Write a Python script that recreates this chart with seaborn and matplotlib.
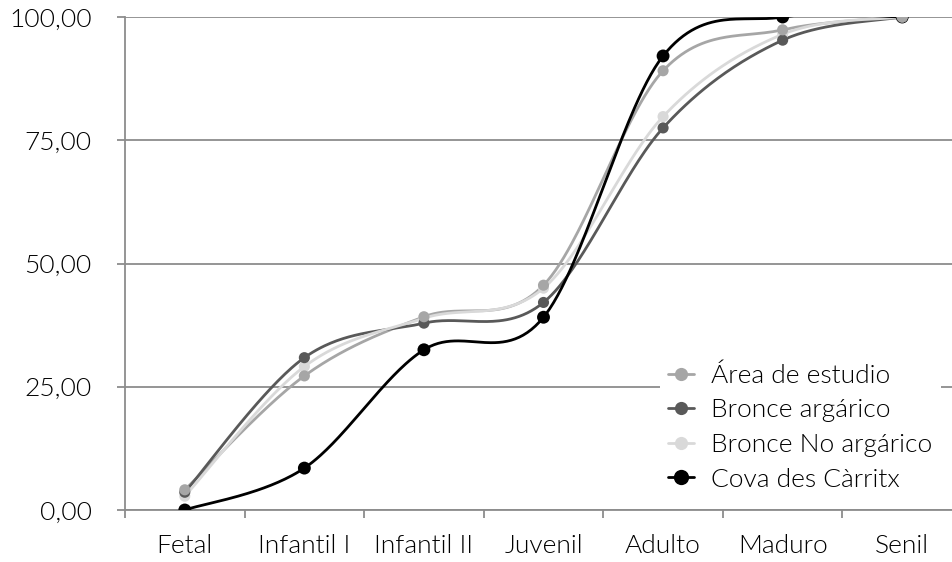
import numpy as np
import pandas as pd
import matplotlib
matplotlib.use("Agg")
import matplotlib.pyplot as plt
from matplotlib.lines import Line2D
from matplotlib.ticker import FuncFormatter, FixedLocator
import seaborn as sns

# Cumulative mortality (%) by age group
categories = ["Fetal", "Infantil I", "Infantil II", "Juvenil", "Adulto", "Maduro", "Senil"]
area_estudio = [4.1, 27.2, 39.2, 45.6, 89.1, 97.4, 100.0]
bronce_argarico = [3.6, 30.9, 37.9, 42.1, 77.5, 95.3, 100.0]
bronce_no_argarico = [2.8, 29.1, 38.9, 45.0, 79.8, 96.5, 100.0]
cova_carritx = [0.0, 8.5, 32.5, 39.1, 92.1, 100.0, 100.0]

series_names = ["Área de estudio", "Bronce argárico", "Bronce No argárico", "Cova des Càrritx"]
series_values = [area_estudio, bronce_argarico, bronce_no_argarico, cova_carritx]
colors = ["#a6a6a6", "#595959", "#d9d9d9", "#000000"]
marker_sizes = [64, 64, 64, 86]


def smooth_curve(xs, ys, n=60):
    """Catmull-Rom style cubic Bezier through every point."""
    pts = np.column_stack([xs, ys]).astype(float)
    ext = np.vstack([pts[0], pts, pts[-1]])
    out = []
    t = np.linspace(0, 1, n)[:, None]
    for i in range(len(pts) - 1):
        p0, p1, p2, p3 = ext[i], ext[i + 1], ext[i + 2], ext[i + 3]
        c1 = p1 + (p2 - p0) / 6.0
        c2 = p2 - (p3 - p1) / 6.0
        seg = ((1 - t) ** 3) * p1 + 3 * ((1 - t) ** 2) * t * c1 + 3 * (1 - t) * t ** 2 * c2 + t ** 3 * p2
        out.append(seg if i == 0 else seg[1:])
    return np.vstack(out)


x_pos = np.arange(len(categories))
curve_frames, point_frames = [], []
for name, vals in zip(series_names, series_values):
    c = smooth_curve(x_pos, vals)
    curve_frames.append(pd.DataFrame({"x": c[:, 0], "y": c[:, 1], "serie": name}))
    point_frames.append(pd.DataFrame({"x": x_pos, "y": vals, "serie": name}))
curves = pd.concat(curve_frames, ignore_index=True)
points = pd.concat(point_frames, ignore_index=True)

sns.set_theme(style="white")
plt.rcParams["font.family"] = ["Lato", "DejaVu Sans"]
plt.rcParams["font.weight"] = 300

fig = plt.figure(figsize=(9.52, 5.62), dpi=100)
ax = fig.add_axes([125 / 952, 52 / 562, 837 / 952, 493 / 562])

palette = dict(zip(series_names, colors))
for name in series_names:
    sns.lineplot(data=curves[curves.serie == name], x="x", y="y", color=palette[name],
                 lw=2.0, sort=False, estimator=None, ax=ax, legend=False, zorder=3)

# markers: the larger black ones first, lighter series on top
for name, ms in reversed(list(zip(series_names, marker_sizes))):
    sns.scatterplot(data=points[points.serie == name], x="x", y="y", color=palette[name],
                    s=ms, edgecolor="none", ax=ax, legend=False, zorder=4)

ax.set_xlim(-0.5, len(categories) - 0.5)
ax.set_ylim(0, 100)
ax.set_xlabel("")
ax.set_ylabel("")

grid_c = "#8c8c8c"
text_c = "#000000"
fs = 19
ax.set_yticks([0, 25, 50, 75, 100])
ax.yaxis.set_major_formatter(FuncFormatter(lambda v, p: f"{v:.2f}".replace(".", ",")))
ax.yaxis.grid(True, color=grid_c, lw=1.3)
ax.set_axisbelow(True)
ax.tick_params(axis="y", which="major", length=6, width=1.3, color=grid_c, direction="out",
               left=True, pad=18, labelsize=fs, labelcolor=text_c)

ax.set_xticks(x_pos)
ax.set_xticklabels(categories)
ax.tick_params(axis="x", which="major", length=0, pad=17, labelsize=fs, labelcolor=text_c)
ax.xaxis.set_minor_locator(FixedLocator(np.arange(-0.5, len(categories), 1.0)))
ax.tick_params(axis="x", which="minor", length=6, width=1.3, color=grid_c, direction="out", bottom=True)

for side in ["top", "right"]:
    ax.spines[side].set_visible(False)
for side in ["left", "bottom"]:
    ax.spines[side].set_color(grid_c)
    ax.spines[side].set_linewidth(1.3)

handles = [Line2D([0], [0], color=c, lw=2.0, marker="o", markersize=(9.5 if c != "#000000" else 11),
                  markeredgewidth=0) for c in colors]
leg = ax.legend(handles, series_names, loc="upper left",
                bbox_to_anchor=((660 - 125) / 837, (510 - 356) / 493),
                frameon=True, fontsize=fs, handlelength=1.0, handletextpad=0.65,
                labelspacing=0.4, borderpad=0.3, borderaxespad=0)
leg.get_frame().set_facecolor("white")
leg.get_frame().set_edgecolor("none")
leg.get_frame().set_alpha(1.0)
leg.set_zorder(5)
for t in leg.get_texts():
    t.set_color(text_c)

fig.savefig("out.png", dpi=100)
